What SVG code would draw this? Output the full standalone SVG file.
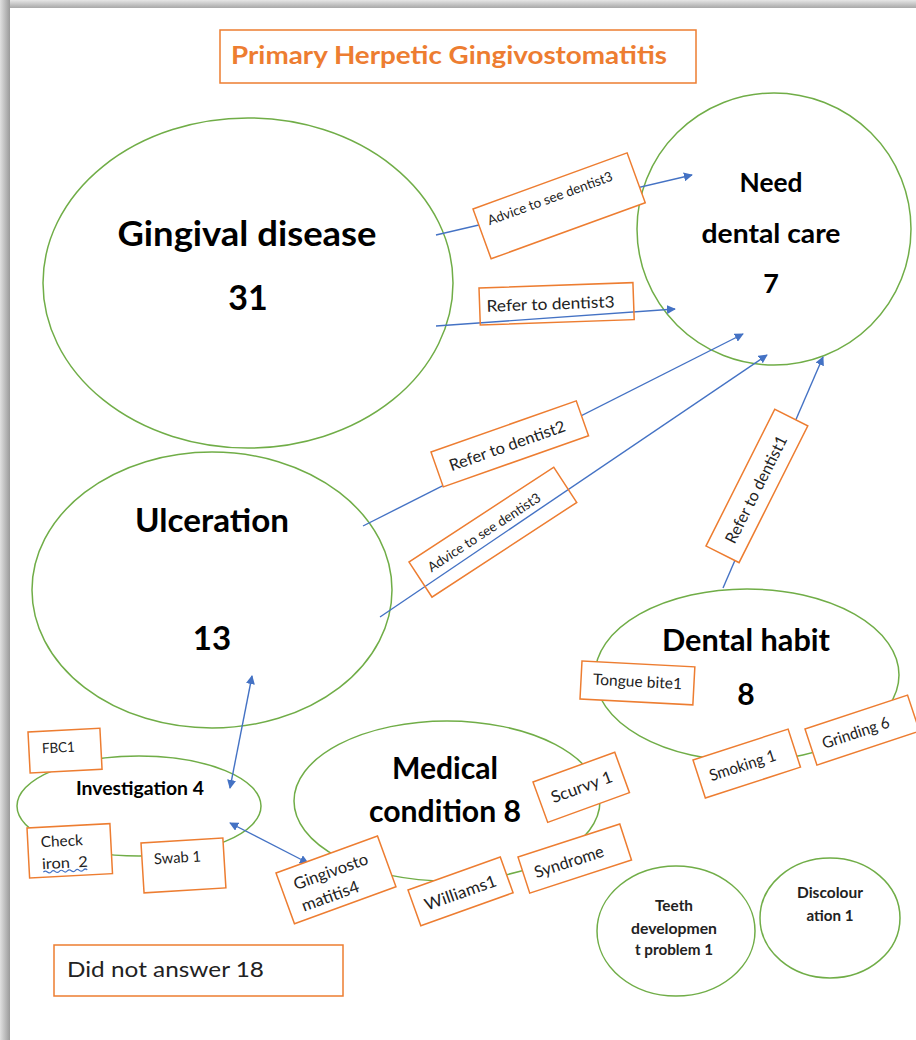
<svg xmlns="http://www.w3.org/2000/svg" width="916" height="1040" viewBox="0 0 916 1040">
<defs>
<linearGradient id="shTop" x1="0" y1="0" x2="0" y2="1"><stop offset="0" stop-color="#e6e6e6"/><stop offset="1" stop-color="#a8a8a8"/></linearGradient>
<linearGradient id="shLeft" x1="0" y1="0" x2="1" y2="0"><stop offset="0" stop-color="#e0e0e0"/><stop offset="1" stop-color="#9a9a9a"/></linearGradient>
<marker id="arr" viewBox="0 0 10 10" refX="9" refY="5" markerWidth="9" markerHeight="9" markerUnits="userSpaceOnUse" orient="auto-start-reverse"><path d="M0,0 L10,5 L0,10 z" fill="#4472c4"/></marker>
<style>
.node{fill:none;stroke:#70ad47;stroke-width:1.5}
.box{fill:#fff;stroke:#ed7d31;stroke-width:1.5}
.boxo{fill:none;stroke:#ed7d31;stroke-width:1.5}
.con{fill:none;stroke:#4472c4;stroke-width:1.4}
.big{font-family:Lato,"Liberation Sans",sans-serif;font-weight:bold;fill:#000;text-anchor:middle}
.sm{font-family:Lato,"Liberation Sans",sans-serif;fill:#222}
.smb{font-family:Lato,"Liberation Sans",sans-serif;font-weight:bold;fill:#222;text-anchor:middle;font-size:15px}
</style>
</defs>
<rect width="916" height="1040" fill="#fff"/>
<rect x="0" y="0" width="916" height="8" fill="url(#shTop)"/>
<rect x="0" y="0" width="10" height="1040" fill="url(#shLeft)"/>

<g id="title">
<rect x="220" y="30" width="476" height="53" fill="#fff" stroke="#ed7d31" stroke-width="1.5"/>
<text x="231" y="64" font-family="Lato,'Liberation Sans',sans-serif" font-weight="bold" font-size="24" fill="#ed7d31" textLength="436" lengthAdjust="spacingAndGlyphs">Primary Herpetic Gingivostomatitis</text>
</g>

<g id="gingival-disease">
<ellipse class="node" cx="248" cy="283" rx="205" ry="165"/>
<text class="big" x="247" y="246" font-size="35" textLength="259" lengthAdjust="spacingAndGlyphs">Gingival disease</text>
<text class="big" x="248" y="310" font-size="34">31</text>
</g>
<g id="need-dental-care">
<ellipse class="node" cx="774" cy="229" rx="137" ry="136"/>
<text class="big" x="771" y="192" font-size="27" textLength="63" lengthAdjust="spacingAndGlyphs">Need</text>
<text class="big" x="771" y="243" font-size="27" textLength="139" lengthAdjust="spacingAndGlyphs">dental care</text>
<text class="big" x="771" y="293" font-size="27">7</text>
</g>
<g id="ulceration">
<ellipse class="node" cx="212" cy="590" rx="180" ry="138"/>
<text class="big" x="212" y="532" font-size="33" textLength="154" lengthAdjust="spacingAndGlyphs">Ulceration</text>
<text class="big" x="212" y="650" font-size="33">13</text>
</g>
<g id="dental-habit">
<ellipse class="node" cx="747" cy="675" rx="152" ry="86"/>
<text class="big" x="746" y="651" font-size="30" textLength="168" lengthAdjust="spacingAndGlyphs">Dental habit</text>
<text class="big" x="746" y="705" font-size="30">8</text>
</g>
<g id="investigation">
<ellipse class="node" cx="139" cy="806" rx="122" ry="50"/>
<text class="big" x="140" y="795" font-size="19" textLength="128" lengthAdjust="spacingAndGlyphs">Investigation 4</text>
</g>
<g id="medical-condition">
<ellipse class="node" cx="447" cy="801" rx="153" ry="80"/>
<text class="big" x="445" y="779" font-size="30" textLength="106" lengthAdjust="spacingAndGlyphs">Medical</text>
<text class="big" x="445" y="822" font-size="30" textLength="152" lengthAdjust="spacingAndGlyphs">condition 8</text>
</g>
<g id="teeth-development">
<ellipse class="node" cx="676" cy="931" rx="79" ry="65"/>
<text class="smb" x="674" y="911" textLength="38" lengthAdjust="spacingAndGlyphs">Teeth</text>
<text class="smb" x="674" y="934" textLength="86" lengthAdjust="spacingAndGlyphs">developmen</text>
<text class="smb" x="674" y="955" textLength="78" lengthAdjust="spacingAndGlyphs">t problem 1</text>
</g>
<g id="discolouration">
<ellipse class="node" cx="830" cy="918" rx="70" ry="60"/>
<text class="smb" x="830" y="898" textLength="66" lengthAdjust="spacingAndGlyphs">Discolour</text>
<text class="smb" x="830" y="921" textLength="47" lengthAdjust="spacingAndGlyphs">ation 1</text>
</g>
<g id="did-not-answer">
<rect x="54" y="945" width="289" height="51" fill="#fff" stroke="#ed7d31" stroke-width="1.5"/>
<text class="sm" x="67" y="977" font-size="22" textLength="197" lengthAdjust="spacingAndGlyphs">Did not answer 18</text>
</g>

<g id="connectors">
<line class="con" x1="436" y1="235" x2="692" y2="175" marker-end="url(#arr)"/>
<line class="con" x1="436" y1="326" x2="675" y2="309" marker-end="url(#arr)"/>
<line class="con" x1="363" y1="526" x2="743" y2="334" marker-end="url(#arr)"/>
<line class="con" x1="380" y1="617" x2="767" y2="355" marker-end="url(#arr)"/>
<line class="con" x1="723" y1="588" x2="823" y2="357" marker-end="url(#arr)"/>
<line class="con" x1="252" y1="676" x2="230" y2="788" marker-start="url(#arr)" marker-end="url(#arr)"/>
<line class="con" x1="230" y1="823" x2="308" y2="863" marker-start="url(#arr)" marker-end="url(#arr)"/>
</g>

<g id="label-advice-see-dentist3-top" transform="translate(473,209) rotate(-20)">
<rect class="box" x="0" y="0" width="164" height="53"/>
<text class="sm" x="10" y="21" font-size="13.5" textLength="132" lengthAdjust="spacingAndGlyphs">Advice to see dentist3</text>
</g>
<g id="label-refer-dentist3" transform="translate(479,288) rotate(-2)">
<rect class="boxo" x="0" y="0" width="154" height="37"/>
<text class="sm" x="7" y="24" font-size="16" textLength="128" lengthAdjust="spacingAndGlyphs">Refer to dentist3</text>
</g>
<g id="label-refer-dentist2" transform="translate(431,452) rotate(-19.4)">
<rect class="box" x="0" y="0" width="154" height="37"/>
<text class="sm" x="13" y="25" font-size="16" textLength="122" lengthAdjust="spacingAndGlyphs">Refer to dentist2</text>
</g>
<g id="label-advice-see-dentist3-ulc" transform="translate(409,562) rotate(-33.2)">
<rect class="boxo" x="0" y="0" width="173" height="42"/>
<text class="sm" x="13" y="21" font-size="13.5" textLength="132" lengthAdjust="spacingAndGlyphs">Advice to see dentist3</text>
</g>
<g id="label-refer-dentist1" transform="translate(706,546) rotate(-63.3)">
<rect class="box" x="0" y="0" width="153" height="37"/>
<text class="sm" x="14" y="25" font-size="16" textLength="118" lengthAdjust="spacingAndGlyphs">Refer to dentist1</text>
</g>

<g id="label-fbc1" transform="translate(28,732) rotate(-3)">
<rect class="box" x="0" y="0" width="72" height="41"/>
<text class="sm" x="13" y="22" font-size="14" textLength="33" lengthAdjust="spacingAndGlyphs">FBC1</text>
</g>
<g id="label-check-iron" transform="translate(27,828) rotate(-3)">
<rect class="box" x="0" y="0" width="83" height="50"/>
<text class="sm" x="13" y="20" font-size="15" textLength="42" lengthAdjust="spacingAndGlyphs">Check</text>
<text class="sm" x="13" y="42" font-size="15" xml:space="preserve" textLength="46" lengthAdjust="spacingAndGlyphs">iron  2</text>
<path d="M14,45 q2,-2 4,0 t4,0 t4,0 t4,0 t4,0 t4,0 t4,0 t4,0 t4,0 t4,0 t4,0" fill="none" stroke="#4472c4" stroke-width="1.2"/>
</g>
<g id="label-swab1" transform="translate(141,843) rotate(-3.5)">
<rect class="box" x="0" y="0" width="82" height="50"/>
<text class="sm" x="12" y="22" font-size="15" textLength="47" lengthAdjust="spacingAndGlyphs">Swab 1</text>
</g>

<g id="label-gingivostomatitis4" transform="translate(276,873) rotate(-20)">
<rect class="box" x="0" y="0" width="108" height="54"/>
<text class="sm" x="13" y="23" font-size="16.5" textLength="78" lengthAdjust="spacingAndGlyphs">Gingivosto</text>
<text class="sm" x="13" y="46" font-size="16.5" textLength="60" lengthAdjust="spacingAndGlyphs">matitis4</text>
</g>
<g id="label-williams1" transform="translate(408,890) rotate(-19.7)">
<rect class="box" x="0" y="0" width="98" height="38"/>
<text class="sm" x="11" y="26" font-size="16.5" textLength="75" lengthAdjust="spacingAndGlyphs">Williams1</text>
</g>
<g id="label-syndrome" transform="translate(518,857) rotate(-18)">
<rect class="box" x="0" y="0" width="107" height="38"/>
<text class="sm" x="11" y="26" font-size="16.5" textLength="72" lengthAdjust="spacingAndGlyphs">Syndrome</text>
</g>
<g id="label-scurvy1" transform="translate(533,782) rotate(-20)">
<rect class="box" x="0" y="0" width="87" height="43"/>
<text class="sm" x="12" y="27" font-size="16.5" textLength="64" lengthAdjust="spacingAndGlyphs">Scurvy 1</text>
</g>

<g id="label-tongue-bite1" transform="translate(582,661) rotate(3)">
<rect class="box" x="0" y="0" width="113" height="38"/>
<text class="sm" x="12" y="23" font-size="15.5" textLength="89" lengthAdjust="spacingAndGlyphs">Tongue bite1</text>
</g>
<g id="label-smoking1" transform="translate(693,760) rotate(-18)">
<rect class="box" x="0" y="0" width="100" height="40"/>
<text class="sm" x="11" y="26" font-size="16" textLength="69" lengthAdjust="spacingAndGlyphs">Smoking 1</text>
</g>
<g id="label-grinding6" transform="translate(805,729) rotate(-18.3)">
<rect class="box" x="0" y="0" width="108" height="38"/>
<text class="sm" x="12" y="25" font-size="16" textLength="70" lengthAdjust="spacingAndGlyphs">Grinding 6</text>
</g>
</svg>
